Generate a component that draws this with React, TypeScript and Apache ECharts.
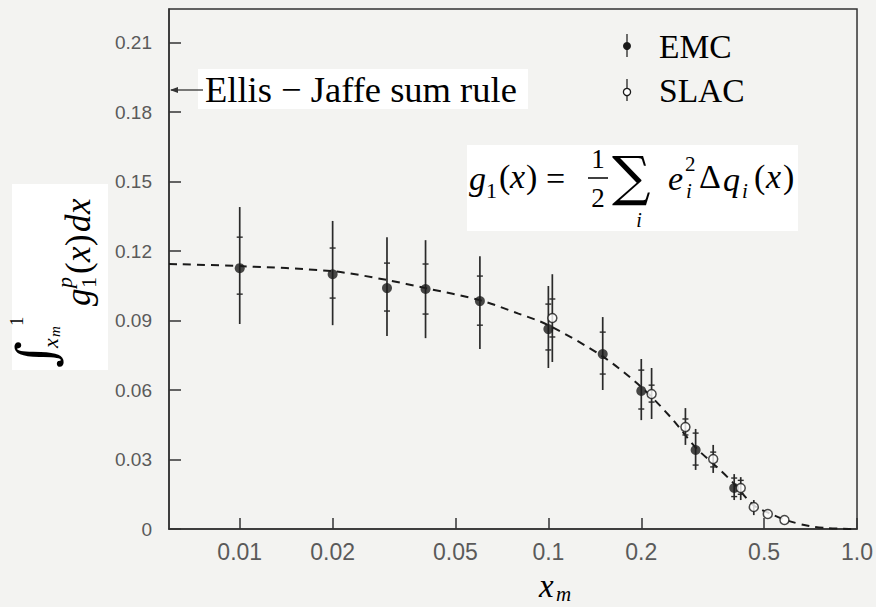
import React, { useEffect, useRef } from 'react';
import * as echarts from 'echarts';

// ---- axis ticks ----
const xTickValues = [0.01, 0.02, 0.05, 0.1, 0.2, 0.5, 1.0];
const xTickLabels = ['0.01', '0.02', '0.05', '0.1', '0.2', '0.5', '1.0'];
const yTickValues = [0, 0.03, 0.06, 0.09, 0.12, 0.15, 0.18, 0.21];
const yTickLabels = ['0', '0.03', '0.06', '0.09', '0.12', '0.15', '0.18', '0.21'];

// ---- EMC data (x_m, integral, total error range, statistical error range) ----
const emcX = [0.01, 0.02, 0.03, 0.04, 0.06, 0.1, 0.15, 0.2, 0.3, 0.4];
const emcY = [0.1126, 0.110, 0.104, 0.1036, 0.0984, 0.0863, 0.0755, 0.0596, 0.0341, 0.0177];
const emcTotLo = [0.0885, 0.088, 0.0833, 0.0824, 0.0777, 0.0695, 0.060, 0.047, 0.0255, 0.0125];
const emcTotHi = [0.139, 0.133, 0.126, 0.1247, 0.1178, 0.1049, 0.0915, 0.0734, 0.0432, 0.0237];
const emcStatLo = [0.1014, 0.0997, 0.0941, 0.0928, 0.088, 0.0773, 0.0669, 0.0518, 0.0276, 0.014];
const emcStatHi = [0.126, 0.1213, 0.1148, 0.1144, 0.1092, 0.0971, 0.085, 0.0686, 0.0414, 0.022];

// ---- SLAC data ----
const slacX = [0.103, 0.216, 0.278, 0.342, 0.42, 0.463, 0.514, 0.582];
const slacY = [0.0911, 0.0583, 0.044, 0.0302, 0.0177, 0.0095, 0.0065, 0.0039];
const slacTotLo = [0.0721, 0.0475, 0.0363, 0.0242, 0.0125, 0.006, null, null];
const slacTotHi = [0.110, 0.0695, 0.0522, 0.0363, 0.0224, 0.0125, null, null];
const slacStatLo = [0.0829, 0.0548, 0.0406, 0.0268, 0.015, null, null, null];
const slacStatHi = [0.0993, 0.0621, 0.0475, 0.0332, 0.021, null, null, null];

// ---- dashed curve ----
const fitX = [0.0059, 0.01, 0.02, 0.03, 0.04, 0.06, 0.08, 0.1, 0.15, 0.2, 0.25, 0.3, 0.35, 0.4, 0.46, 0.52, 0.6, 0.7, 0.8, 0.9, 1.0];
const fitY = [0.1144, 0.1135, 0.1113, 0.1075, 0.104, 0.0988, 0.093, 0.088, 0.0745, 0.0613, 0.048, 0.0352, 0.027, 0.0195, 0.0105, 0.0068, 0.0035, 0.0013, 0.0004, 0.0001, 0];

const SERIF = '"Liberation Serif", "DejaVu Serif", serif';
const SANS = '"Liberation Sans", Arial, sans-serif';
const INK = '#1a1a1a';

function errorBarRender(params: any, api: any) {
  const x = api.value(0);
  const lo = api.value(1);
  const hi = api.value(2);
  const slo = api.value(3);
  const shi = api.value(4);
  const children: any[] = [];
  if (!isNaN(lo) && !isNaN(hi)) {
    const a = api.coord([x, lo]);
    const b = api.coord([x, hi]);
    children.push({
      type: 'line',
      shape: { x1: a[0], y1: a[1], x2: b[0], y2: b[1] },
      style: { stroke: '#2a2a2a', lineWidth: 1.7 },
    });
  }
  [slo, shi].forEach((v) => {
    if (v !== null && !isNaN(v)) {
      const p = api.coord([x, v]);
      children.push({
        type: 'line',
        shape: { x1: p[0] - 3, y1: p[1], x2: p[0] + 3, y2: p[1] },
        style: { stroke: '#2a2a2a', lineWidth: 1.4 },
      });
    }
  });
  return { type: 'group', children };
}

function txt(text: string, x: number, y: number, size: number, opts: any = {}) {
  return {
    type: 'text',
    x,
    y,
    z: 20,
    style: {
      text,
      fontSize: size,
      fontFamily: opts.family || SERIF,
      fontStyle: opts.italic ? 'italic' : 'normal',
      fill: opts.fill || '#000',
      align: opts.align || 'left',
      verticalAlign: 'middle',
    },
  };
}

export default function App() {
  const ref = useRef<HTMLDivElement>(null);
  useEffect(() => {
    if (!ref.current) return;
    const chart = echarts.init(ref.current, null, { renderer: 'svg' });

    const emcErr = emcX.map((x, i) => [x, emcTotLo[i], emcTotHi[i], emcStatLo[i], emcStatHi[i]]);
    const slacErr = slacX
      .map((x, i) => [x, slacTotLo[i], slacTotHi[i], slacStatLo[i], slacStatHi[i]])
      .filter((d) => d[1] !== null);

    // rotated y-axis label: local (lx, ly) -> screen (gx + ly, gy - lx)
    const yLabel = {
      type: 'group',
      x: 88,
      y: 364,
      rotation: Math.PI / 2,
      z: 20,
      children: [
        txt('\u222B', -4, -52, 52, { family: '"DejaVu Serif", serif' }),
        txt('1', 38, -72, 19),
        txt('x', 16, -38, 22, { italic: true }),
        txt('m', 27, -33, 15, { italic: true }),
        txt('g', 58, -10, 35, { italic: true }),
        txt('1', 76, 0, 22),
        txt('p', 76, -24, 22, { italic: true }),
        txt('(', 90, -10, 35),
        txt('x', 102, -10, 35, { italic: true }),
        txt(')', 118, -10, 35),
        txt('d', 132, -10, 35, { italic: true }),
        txt('x', 150, -10, 35, { italic: true }),
      ],
    };

    const option: any = {
      animation: false,
      backgroundColor: 'transparent',
      grid: {
        left: 169,
        right: 15,
        top: 9,
        bottom: 78,
        show: true,
        borderColor: '#333',
        borderWidth: 1.5,
        backgroundColor: 'transparent',
      },
      xAxis: {
        type: 'log',
        logBase: 10,
        min: 0.0059,
        max: 1.0,
        axisLine: { show: true, lineStyle: { color: '#333', width: 1.5 } },
        axisTick: {
          show: true,
          inside: true,
          length: 11,
          customValues: xTickValues,
          lineStyle: { color: '#333', width: 1.5 },
        },
        minorTick: { show: false },
        splitLine: { show: false },
        axisLabel: {
          customValues: xTickValues,
          formatter: (v: number) => {
            const i = xTickValues.findIndex((t) => Math.abs(t - v) < 1e-9);
            return i >= 0 ? xTickLabels[i] : '';
          },
          color: '#5a5a5a',
          fontSize: 23,
          fontFamily: SANS,
          margin: 11,
        },
      },
      yAxis: {
        type: 'value',
        min: 0,
        max: 0.2245,
        axisLine: { show: true, lineStyle: { color: '#333', width: 1.5 } },
        axisTick: {
          show: true,
          inside: true,
          length: 12,
          customValues: yTickValues,
          lineStyle: { color: '#333', width: 1.5 },
        },
        splitLine: { show: false },
        axisLabel: {
          customValues: yTickValues,
          formatter: (v: number) => {
            const i = yTickValues.findIndex((t) => Math.abs(t - v) < 1e-9);
            return i >= 0 ? yTickLabels[i] : '';
          },
          color: '#5a5a5a',
          fontSize: 19,
          fontFamily: SANS,
          margin: 17,
        },
      },
      series: [
        {
          name: 'fit',
          type: 'line',
          data: fitX.map((x, i) => [x, fitY[i]]),
          smooth: 0.3,
          showSymbol: false,
          lineStyle: { color: INK, width: 2, type: [8, 6] },
          z: 2,
        },
        {
          name: 'EMC errors',
          type: 'custom',
          renderItem: errorBarRender,
          data: emcErr,
          encode: { x: 0, y: [1, 2] },
          z: 3,
        },
        {
          name: 'SLAC errors',
          type: 'custom',
          renderItem: errorBarRender,
          data: slacErr,
          encode: { x: 0, y: [1, 2] },
          z: 3,
        },
        {
          name: 'EMC',
          type: 'scatter',
          data: emcX.map((x, i) => [x, emcY[i]]),
          symbol: 'circle',
          symbolSize: 10,
          itemStyle: { color: INK },
          z: 5,
        },
        {
          name: 'SLAC',
          type: 'scatter',
          data: slacX.map((x, i) => [x, slacY[i]]),
          symbol: 'circle',
          symbolSize: 9,
          itemStyle: { color: '#fff', borderColor: INK, borderWidth: 1.5 },
          z: 5,
        },
      ],
      graphic: [
        // Ellis-Jaffe annotation
        { type: 'rect', shape: { x: 198, y: 69, width: 330, height: 40 }, style: { fill: '#fff' }, z: 10 },
        { type: 'line', shape: { x1: 171, y1: 90, x2: 203, y2: 90 }, style: { stroke: '#333', lineWidth: 1.3 }, z: 11 },
        { type: 'polygon', shape: { points: [[170, 90], [178, 87], [178, 93]] }, style: { fill: '#333' }, z: 11 },
        txt('Ellis \u2212 Jaffe sum rule', 205, 89, 36.5),
        // legend
        { type: 'line', shape: { x1: 627, y1: 34, x2: 627, y2: 57 }, style: { stroke: '#333', lineWidth: 1.4 }, z: 11 },
        { type: 'circle', shape: { cx: 627, cy: 46, r: 4 }, style: { fill: INK }, z: 12 },
        { type: 'line', shape: { x1: 627, y1: 79, x2: 627, y2: 101 }, style: { stroke: '#333', lineWidth: 1.4 }, z: 11 },
        { type: 'circle', shape: { cx: 627, cy: 92, r: 3.6 }, style: { fill: '#fff', stroke: INK, lineWidth: 1.3 }, z: 12 },
        txt('EMC', 659, 46, 33.5),
        txt('SLAC', 659, 90, 33.5),
        // formula box
        { type: 'rect', shape: { x: 467, y: 145, width: 331, height: 86 }, style: { fill: '#fff' }, z: 10 },
        txt('g', 469, 178, 34, { italic: true }),
        txt('1', 486, 190, 22),
        txt('(', 499, 176, 34),
        txt('x', 510, 176, 34, { italic: true }),
        txt(')', 526, 176, 34),
        txt('=', 546, 178, 34),
        txt('1', 598, 159, 27, { align: 'center' }),
        { type: 'line', shape: { x1: 588, y1: 178, x2: 608, y2: 178 }, style: { stroke: '#000', lineWidth: 1.5 }, z: 20 },
        txt('2', 598, 198, 27, { align: 'center' }),
        txt('\u2211', 612, 176, 54, { family: '"DejaVu Serif", serif' }),
        txt('i', 639, 220, 20, { italic: true, align: 'center' }),
        txt('e', 668, 178, 34, { italic: true }),
        txt('2', 685, 164, 21),
        txt('i', 686, 191, 21, { italic: true }),
        txt('\u0394', 699, 176, 34),
        txt('q', 723, 179, 34, { italic: true }),
        txt('i', 742, 191, 21, { italic: true }),
        txt('(', 754, 176, 34),
        txt('x', 766, 176, 34, { italic: true }),
        txt(')', 783, 176, 34),
        // y-axis label
        { type: 'rect', shape: { x: 12, y: 184, width: 96, height: 186 }, style: { fill: '#fff' }, z: 10 },
        yLabel,
        // x-axis name
        txt('x', 539, 586, 33, { italic: true }),
        txt('m', 556, 594, 21, { italic: true }),
      ],
    };
    chart.setOption(option);
    return () => chart.dispose();
  }, []);

  return (
    <div
      ref={ref}
      style={{ position: 'fixed', left: 0, top: 0, width: 876, height: 607, background: '#f3f3f1' }}
    />
  );
}
